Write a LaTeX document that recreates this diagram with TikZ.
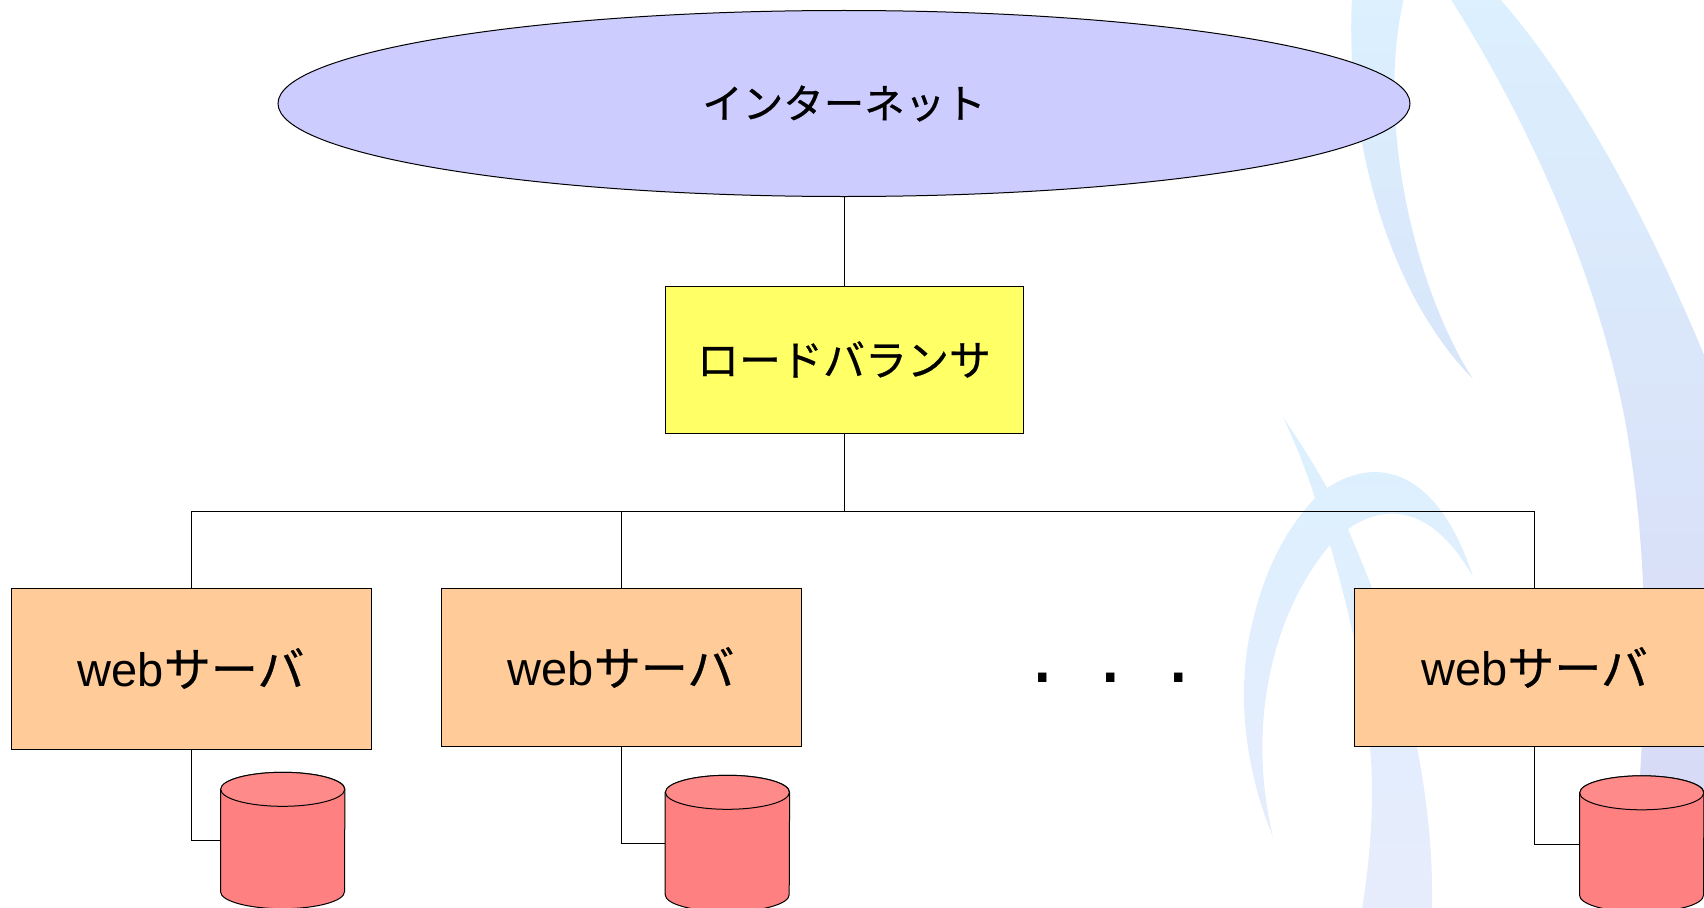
\documentclass[tikz,border=0pt]{standalone}
\usepackage{fontspec}
\setmainfont{Liberation Sans}
\newfontfamily\cjk[FakeBold=0.6]{Noto Sans CJK JP}
\usetikzlibrary{shapes.geometric}
\definecolor{inetfill}{HTML}{CCCCFF}
\definecolor{lbfill}{HTML}{FFFF66}
\definecolor{webfill}{HTML}{FFCC99}
\definecolor{dbbody}{HTML}{FF8080}
\definecolor{dbtop}{HTML}{FF8A8A}
\definecolor{swtop}{HTML}{DCF0FE}
\definecolor{swlow}{HTML}{D7D8F5}
\definecolor{swmid}{HTML}{D8E5FA}
\definecolor{swmidb}{HTML}{DBE9FB}
\definecolor{swend}{HTML}{E7ECFC}
\newcommand{\dbdraw}[1]{%
  \path[fill=dbbody,draw=black,line width=1pt]
    ([yshift=-17pt]#1.north west) -- ([yshift=17pt]#1.south west)
    arc[start angle=180,end angle=360,x radius=62pt,y radius=17pt]
    -- ([yshift=-17pt]#1.north east)
    arc[start angle=0,end angle=180,x radius=62pt,y radius=17pt] -- cycle;
  \path[fill=dbtop,draw=black,line width=1pt]
    ([yshift=-17pt]#1.north) ellipse[x radius=62pt,y radius=17pt];
}
\tikzset{
  conn/.style={draw=black,line width=1pt},
  inetnode/.style={ellipse,draw=black,line width=1pt,fill=inetfill,minimum width=1132pt,minimum height=186pt,inner sep=0pt,font=\fontsize{40.5}{48}\selectfont\cjk},
  lbnode/.style={rectangle,draw=black,line width=1pt,fill=lbfill,minimum width=358pt,minimum height=147pt,inner sep=0pt,font=\fontsize{42}{48}\selectfont\cjk},
  webnode/.style={rectangle,draw=black,line width=1pt,fill=webfill,minimum width=360pt,inner sep=0pt,font=\fontsize{47}{54}\selectfont},
  dbnode/.style={rectangle,minimum width=124pt,minimum height=136pt,inner sep=0pt},
  dotsnode/.style={inner sep=0pt,anchor=base,font=\fontsize{88}{96}\selectfont}
}
\begin{document}
\begin{tikzpicture}[x=1pt,y=-1pt]
\useasboundingbox (0,0) rectangle (1704,907);
\clip (0,0) rectangle (1704,907);
% background swooshes
\path[top color=swtop,bottom color=swlow,shading angle=0]
  (1490,-12) .. controls (1580,85) and (1665,250) .. (1730,420)
  -- (1730,890) -- (1630,890)
  .. controls (1650,700) and (1650,560) .. (1625,420)
  .. controls (1600,290) and (1540,140) .. (1450,-2)
  -- cycle;
\path[top color=swtop,bottom color=swmid]
  (1352,-2) .. controls (1345,130) and (1385,290) .. (1473,379)
  .. controls (1415,290) and (1375,120) .. (1404,-2)
  -- cycle;
\path[top color=swtop,middle color=swmidb,bottom color=swend]
  (1283,417)
  .. controls (1300,442) and (1315,466) .. (1327,488)
  .. controls (1385,450) and (1442,480) .. (1473,577)
  .. controls (1435,510) and (1390,500) .. (1348,529)
  .. controls (1372,587) and (1400,650) .. (1417,747)
  .. controls (1427,800) and (1433,850) .. (1432,909)
  -- (1362,909)
  .. controls (1370,860) and (1375,800) .. (1370,747)
  .. controls (1366,690) and (1352,620) .. (1330,545)
  .. controls (1275,610) and (1245,720) .. (1273,837)
  .. controls (1245,770) and (1235,690) .. (1253,620)
  .. controls (1265,570) and (1285,530) .. (1315,498)
  .. controls (1306,470) and (1296,445) .. (1283,417)
  -- cycle;
% nodes
\node[inetnode] (inet) at (844,103.5) {インターネット};
\node[lbnode] (lb) at (844,359.5) {ロードバランサ};
\coordinate (bus) at (844,511);
\node[webnode,minimum height=161pt] (w1) at (191,668.5) {\raisebox{2pt}{web{\cjk サーバ}}};
\node[webnode,minimum height=158pt] (w2) at (621,667.5) {\raisebox{2pt}{web{\cjk サーバ}}};
\node[webnode,minimum height=158pt] (w3) at (1534.5,667.5) {\raisebox{2pt}{web{\cjk サーバ}}};
\node[dbnode] (d1) at (282.7,840.5) {};
\node[dbnode] (d2) at (727.4,843.5) {};
\node[dbnode] (d3) at (1641.7,844) {};
\dbdraw{d1}
\dbdraw{d2}
\dbdraw{d3}
\node[dotsnode] (more) at (1111,682) {.\hspace{43.5pt}.\hspace{43.5pt}.};
% connectors
\draw[conn] (inet) -- (lb);
\draw[conn] (lb) -- (bus);
\draw[conn] (bus) -| (w1.north);
\draw[conn] (bus) -| (w2.north);
\draw[conn] (bus) -| (w3.north);
\draw[conn] (w1.south) |- (d1.west);
\draw[conn] (w2.south) |- (d2.west);
\draw[conn] (w3.south) |- (d3.west);
\end{tikzpicture}
\end{document}
